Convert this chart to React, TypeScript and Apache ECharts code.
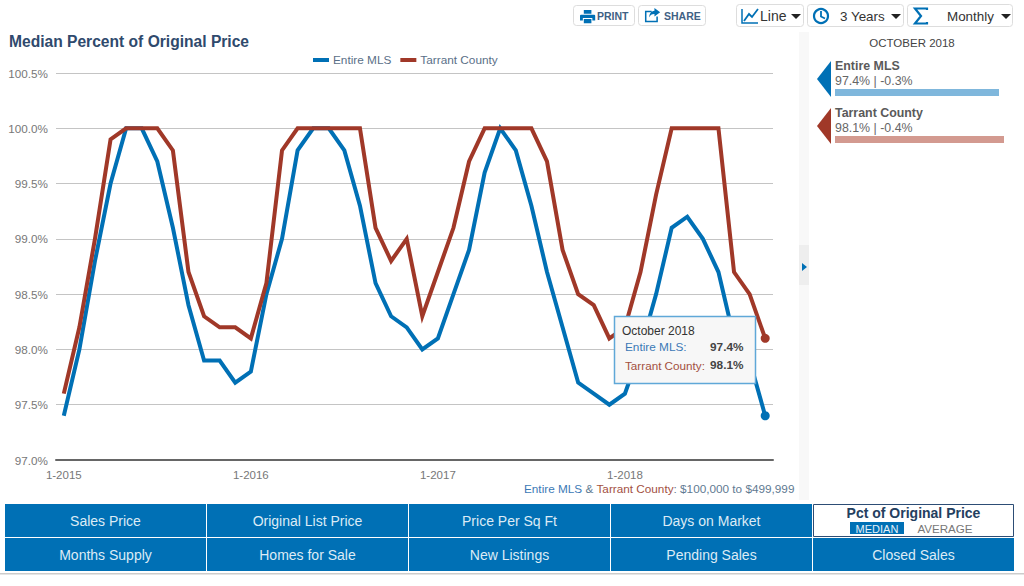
import React, { useEffect, useRef } from "react";
import * as echarts from "echarts";

const categories = [
  "1-2015","2-2015","3-2015","4-2015","5-2015","6-2015","7-2015","8-2015","9-2015","10-2015","11-2015","12-2015",
  "1-2016","2-2016","3-2016","4-2016","5-2016","6-2016","7-2016","8-2016","9-2016","10-2016","11-2016","12-2016",
  "1-2017","2-2017","3-2017","4-2017","5-2017","6-2017","7-2017","8-2017","9-2017","10-2017","11-2017","12-2017",
  "1-2018","2-2018","3-2018","4-2018","5-2018","6-2018","7-2018","8-2018","9-2018","10-2018",
];
const entireMls = [
  97.4, 98.0, 98.8, 99.5, 100, 100, 99.7, 99.1, 98.4, 97.9, 97.9, 97.7,
  97.8, 98.5, 99.0, 99.8, 100, 100, 99.8, 99.3, 98.6, 98.3, 98.2, 98.0,
  98.1, 98.5, 98.9, 99.6, 100, 99.8, 99.3, 98.7, 98.2, 97.7, 97.6, 97.5,
  97.6, 98.0, 98.5, 99.1, 99.2, 99.0, 98.7, 98.1, 97.9, 97.4,
];
const tarrantCounty = [
  97.6, 98.2, 99.0, 99.9, 100, 100, 100, 99.8, 98.7, 98.3, 98.2, 98.2,
  98.1, 98.6, 99.8, 100, 100, 100, 100, 100, 99.1, 98.8, 99.0, 98.3,
  98.7, 99.1, 99.7, 100, 100, 100, 100, 99.7, 98.9, 98.5, 98.4, 98.1,
  98.2, 98.7, 99.4, 100, 100, 100, 100, 98.7, 98.5, 98.1,
];
const topMenus = ["Line", "3 Years", "Monthly"];
const metricRows = [
  ["Sales Price", "Original List Price", "Price Per Sq Ft", "Days on Market", ""],
  ["Months Supply", "Homes for Sale", "New Listings", "Pending Sales", "Closed Sales"],
];

const BLUE = "#0070b5";
const RED = "#a03828";
const FONT = '"Liberation Sans", Arial, sans-serif';

echarts.graphic.registerShape(
  "printIcon",
  echarts.graphic.extendPath(
    "M4 1H12V5H4ZM1 6H15C15.6 6 16 6.4 16 7V12H13V9.5H3V12H0V7C0 6.4 .4 6 1 6ZM4 10.5H12V15H4Z",
    {}
  )
);
echarts.graphic.registerShape(
  "shareIcon",
  echarts.graphic.extendPath(
    "M1 3H8V4.6H2.6V13.4H13V9H14.6V15H1ZM11 0L17 4.5L11 9V6.4C8 6.4 6.5 7.6 5.5 10C5.5 6 7.5 3.2 11 2.8Z",
    {}
  )
);

function txt(text: string, x: number, y: number, font: string, fill: string, align = "left") {
  return {
    type: "text",
    z: 20,
    silent: true,
    style: { text, x, y, font, fill, textAlign: align, textVerticalAlign: "middle", align, verticalAlign: "middle" },
  };
}
function box(x: number, y: number, w: number, h: number, fill: string, stroke?: string, r = 0, lw = 1) {
  return {
    type: "rect",
    z: 20,
    silent: true,
    shape: { x, y, width: w, height: h, r },
    style: { fill, stroke: stroke || "none", lineWidth: stroke ? lw : 0 },
  };
}
function tri(points: number[][], fill: string) {
  return { type: "polygon", z: 20, silent: true, shape: { points }, style: { fill } };
}
function poly(points: number[][], stroke: string, lineWidth: number) {
  return { type: "polyline", z: 20, silent: true, shape: { points }, style: { stroke, lineWidth, fill: "none" } };
}

function buildGraphics() {
  const last = categories.length - 1;
  const mlsVal = entireMls[last].toFixed(1) + "%";
  const tarVal = tarrantCounty[last].toFixed(1) + "%";
  const els: any[] = [];

  // top buttons
  els.push(box(573.5, 5.5, 61, 20, "#fff", "#dddddd", 3));
  els.push({ type: "printIcon", z: 20, silent: true, x: 580, y: 9, scaleX: 0.95, scaleY: 0.95, style: { fill: BLUE } });
  els.push(txt("PRINT", 597, 16, `bold 10.5px ${FONT}`, "#3f6184"));
  els.push(box(638.5, 5.5, 67, 20, "#fff", "#dddddd", 3));
  els.push({ type: "shareIcon", z: 20, silent: true, x: 644, y: 8, scaleX: 0.95, scaleY: 0.95, style: { fill: BLUE } });
  els.push(txt("SHARE", 664, 16, `bold 10.5px ${FONT}`, "#3f6184"));

  els.push(box(736.5, 4.5, 67, 22, "#fff", "#dddddd", 3));
  els.push(poly([[742, 9], [742, 23], [758, 23]], BLUE, 1.5));
  els.push(poly([[744, 21], [749, 14], [752, 17], [758, 9]], BLUE, 1.8));
  els.push(txt(topMenus[0], 760, 16, `14px ${FONT}`, "#333"));
  els.push(tri([[791, 14], [801, 14], [796, 19]], "#222"));

  els.push(box(807.5, 4.5, 96, 22, "#fff", "#dddddd", 3));
  els.push({ type: "circle", z: 20, silent: true, shape: { cx: 821, cy: 16, r: 7 }, style: { fill: "none", stroke: BLUE, lineWidth: 2.2 } });
  els.push(poly([[821, 11], [821, 16.5], [825, 18.5]], BLUE, 1.8));
  els.push(txt(topMenus[1], 840, 16, `13.4px ${FONT}`, "#333"));
  els.push(tri([[891, 14], [901, 14], [896, 19]], "#222"));

  els.push(box(907.5, 4.5, 105, 22, "#fff", "#dddddd", 3));
  els.push(poly([[927, 10], [927, 8.5], [915, 8.5], [921, 16], [915, 23.5], [927, 23.5], [927, 22]], BLUE, 2.2));
  els.push(txt(topMenus[2], 947, 16, `13.4px ${FONT}`, "#333"));
  els.push(tri([[1001, 14], [1011, 14], [1006, 19]], "#222"));

  // side strip
  els.push(box(799, 32, 10, 468, "#f8f8f8"));
  els.push(box(799, 245, 10, 40, "#eeeeee"));
  els.push(tri([[802, 263], [802, 271], [807, 267]], BLUE));

  // right panel
  els.push(txt("OCTOBER 2018", 912, 43, `11.5px ${FONT}`, "#444", "center"));
  els.push(tri([[831, 61], [831, 97], [817, 79]], BLUE));
  els.push(txt("Entire MLS", 835, 66, `bold 12.4px ${FONT}`, "#5a5a5a"));
  els.push(txt(`${mlsVal} | -0.3%`, 835, 81, `12.4px ${FONT}`, "#666"));
  els.push(box(835, 89, 164, 7, "#7fb7dc"));
  els.push(tri([[831, 108], [831, 144], [817, 126]], RED));
  els.push(txt("Tarrant County", 835, 113, `bold 12.4px ${FONT}`, "#5a5a5a"));
  els.push(txt(`${tarVal} | -0.4%`, 835, 128, `12.4px ${FONT}`, "#666"));
  els.push(box(835, 136, 169, 7, "#d39a90"));

  // tooltip
  els.push(box(614.5, 316.5, 141, 67, "#f7f7f7", "#5fa8d8", 0, 1.5));
  els.push(txt("October 2018", 622, 331, `12px ${FONT}`, "#333"));
  els.push(txt("Entire MLS:", 625, 347, `11.8px ${FONT}`, "#3b79b6"));
  els.push(txt(mlsVal, 743.5, 347, `bold 11.8px ${FONT}`, "#444", "right"));
  els.push(txt("Tarrant County:", 625, 365, `11.7px ${FONT}`, "#a3503f"));
  els.push(txt(tarVal, 743.5, 365, `bold 11.8px ${FONT}`, "#444", "right"));

  // footer range
  els.push({
    type: "text",
    z: 20,
    silent: true,
    style: {
      x: 524,
      y: 488,
      verticalAlign: "middle",
      textVerticalAlign: "middle",
      font: `11.75px ${FONT}`,
      text: "{a|Entire MLS} {g|&} {b|Tarrant County}{g|: $100,000 to $499,999}",
      rich: {
        a: { fill: "#3b79b6", font: `11.75px ${FONT}` },
        b: { fill: "#a3503f", font: `11.75px ${FONT}` },
        g: { fill: "#5f7a92", font: `11.75px ${FONT}` },
      },
    },
  });

  // metric buttons
  const colX = [5, 207, 409, 611, 813];
  const rowY = [504, 538];
  metricRows.forEach((row, r) =>
    row.forEach((label, c) => {
      if (!label) return;
      els.push(box(colX[c], rowY[r], 201, 33, BLUE));
      els.push(txt(label, colX[c] + 100.5, rowY[r] + 16.5, `14px ${FONT}`, "#dcebf6", "center"));
    })
  );
  els.push(box(813.5, 504.5, 200, 32, "#fff", "#2d4d75", 0, 1));
  els.push(txt("Pct of Original Price", 913.5, 513, `bold 14px ${FONT}`, "#24405f", "center"));
  els.push(box(850, 522, 54, 12, BLUE));
  els.push(txt("MEDIAN", 877, 528.5, `11px ${FONT}`, "#e6f0f8", "center"));
  els.push(txt("AVERAGE", 945, 528.5, `11.6px ${FONT}`, "#777", "center"));
  els.push(box(0, 573, 1024, 1.5, "#cccccc"));
  return els;
}

export default function App() {
  const ref = useRef<HTMLDivElement>(null);
  useEffect(() => {
    const chart = echarts.init(ref.current!, undefined, { renderer: "svg" });
    const last = categories.length - 1;
    const endDot = (_: any, p: any) => (p.dataIndex === last ? "circle" : "none");
    chart.setOption({
      animation: false,
      backgroundColor: "#fff",
      textStyle: { fontFamily: FONT },
      title: {
        text: "Median Percent of Original Price",
        left: 9,
        top: 33,
        padding: 0,
        textStyle: { fontFamily: FONT, fontSize: 15.6, fontWeight: "bold", color: "#2f4a6d" },
      },
      legend: {
        left: 313,
        top: 54,
        padding: 0,
        icon: "rect",
        itemWidth: 16,
        itemHeight: 4,
        itemGap: 9,
        textStyle: { fontFamily: FONT, fontSize: 11.8, color: "#5a6f88", padding: [0, 0, 0, -1] },
        data: ["Entire MLS", "Tarrant County"],
      },
      grid: { left: 56, top: 73, width: 717, height: 387, containLabel: false },
      xAxis: {
        type: "category",
        data: categories,
        boundaryGap: true,
        axisLine: { lineStyle: { color: "#666", width: 2 } },
        axisTick: { alignWithLabel: true, interval: 11, length: 5, lineStyle: { color: "#666", width: 1 } },
        axisLabel: { interval: 11, color: "#777", fontSize: 11.5, fontFamily: FONT, margin: 9 },
        splitLine: { show: false },
      },
      yAxis: {
        type: "value",
        min: 97,
        max: 100.5,
        interval: 0.5,
        axisLine: { show: false },
        axisTick: { show: false },
        axisLabel: {
          formatter: (v: number) => v.toFixed(1) + "%",
          color: "#777",
          fontSize: 11.7,
          fontFamily: FONT,
          margin: 8,
          padding: [6, 0, 0, 0],
        },
        splitLine: { lineStyle: { color: "#c4c4c4", width: 1 } },
      },
      series: [
        {
          name: "Entire MLS",
          type: "line",
          data: entireMls,
          showAllSymbol: true,
          symbol: endDot,
          symbolSize: 9,
          lineStyle: { color: BLUE, width: 4, join: "miter" },
          itemStyle: { color: BLUE },
          emphasis: { disabled: true },
        },
        {
          name: "Tarrant County",
          type: "line",
          data: tarrantCounty,
          showAllSymbol: true,
          symbol: endDot,
          symbolSize: 9,
          lineStyle: { color: RED, width: 4, join: "miter" },
          itemStyle: { color: RED },
          emphasis: { disabled: true },
        },
      ],
      graphic: { elements: buildGraphics() },
    });
    return () => chart.dispose();
  }, []);
  return (
    <div
      ref={ref}
      style={{ position: "fixed", left: 0, top: 0, width: 1024, height: 586, background: "#fff" }}
    />
  );
}
